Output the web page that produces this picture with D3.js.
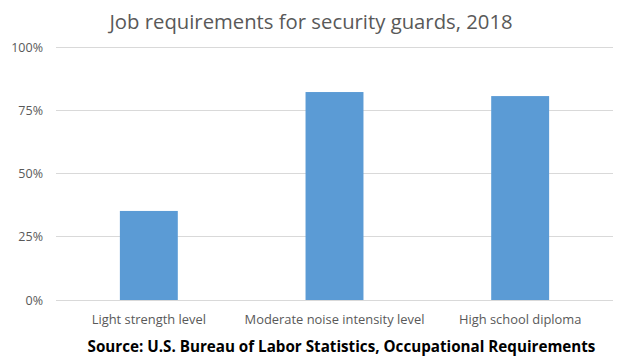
<!DOCTYPE html>
<html>
<head>
<meta charset="utf-8">
<script src="https://cdn.jsdelivr.net/npm/d3@7"></script>
<style>
  body { margin: 0; background: #fff; }
  svg { display: block; font-family: "Open Sans", "Noto Sans", sans-serif; }
</style>
</head>
<body>
<svg id="chart" width="626" height="359"></svg>
<script>
const categories = ['Light strength level', 'Moderate noise intensity level', 'High school diploma'];
const values = [0.352, 0.822, 0.806];
const y_ticks = [0, 0.25, 0.5, 0.75, 1];

const svg = d3.select('#chart');
const plot_left = 56, plot_right = 613, plot_top = 47, plot_bottom = 300;

let x = d3.scaleBand()
  .domain(categories)
  .range([plot_left, plot_right])
  .paddingInner(0.688)
  .paddingOuter(0.344);

let y = d3.scaleLinear().domain([0, 1]).range([plot_bottom, plot_top]);

// gridlines
svg.append('g').selectAll('line')
  .data(y_ticks)
  .join('line')
  .attr('x1', plot_left).attr('x2', plot_right)
  .attr('y1', d => y(d)).attr('y2', d => y(d))
  .attr('stroke', '#d9d9d9').attr('stroke-width', 1)
  .attr('shape-rendering', 'crispEdges');

// y labels
svg.append('g').selectAll('text')
  .data(y_ticks)
  .join('text')
  .attr('x', 43)
  .attr('y', d => y(d) + 4.5)
  .attr('text-anchor', 'end')
  .attr('font-size', 12.5)
  .attr('fill', '#595959')
  .text(d => d3.format('.0%')(d));

// bars
svg.append('g').selectAll('rect')
  .data(values)
  .join('rect')
  .attr('x', (d, i) => x(categories[i]))
  .attr('width', x.bandwidth())
  .attr('y', d => y(d))
  .attr('height', d => y(0) - y(d))
  .attr('fill', '#5b9bd5');

// x labels
svg.append('g').selectAll('text')
  .data(categories)
  .join('text')
  .attr('x', d => x(d) + x.bandwidth() / 2)
  .attr('y', 324)
  .attr('text-anchor', 'middle')
  .attr('font-size', 12.9)
  .attr('fill', '#595959')
  .text(d => d);

// title
svg.append('text')
  .attr('x', 311).attr('y', 29)
  .attr('text-anchor', 'middle')
  .attr('font-size', 20.3)
  .attr('fill', '#595959')
  .text('Job requirements for security guards, 2018');

// source
svg.append('text')
  .attr('x', 341.5).attr('y', 352)
  .attr('text-anchor', 'middle')
  .attr('font-size', 15.2)
  .attr('font-weight', 'bold')
  .attr('fill', '#000')
  .text('Source: U.S. Bureau of Labor Statistics, Occupational Requirements');
</script>
</body>
</html>
